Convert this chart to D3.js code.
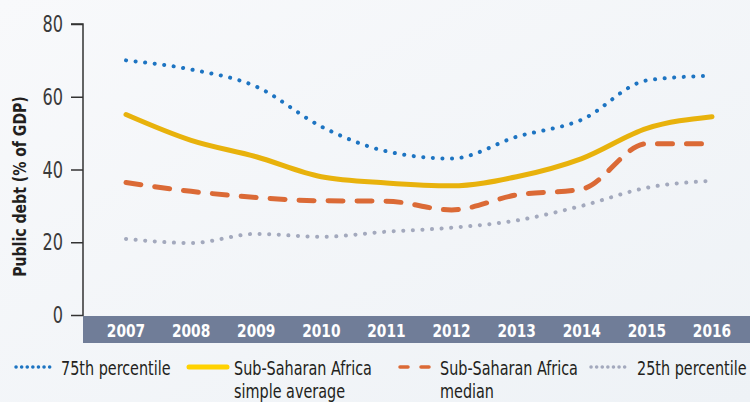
<!DOCTYPE html>
<html>
<head>
<meta charset="utf-8">
<script src="https://cdn.jsdelivr.net/npm/d3@7"></script>
<style>
  body { margin: 0; background: #f6f8fa; }
  svg { display: block; }
  text { font-family: "DejaVu Sans Condensed", "Liberation Sans Narrow", "Roboto Condensed", sans-serif; }
</style>
</head>
<body>
<div id="chart-area"></div>
<script>
// data
var years = ["2007", "2008", "2009", "2010", "2011", "2012", "2013", "2014", "2015", "2016"];
var p75 = [70.0, 67.5, 62.8, 51.8, 45.0, 43.0, 49.0, 53.7, 64.5, 65.8];
var ssaAverage = [55.1, 48.0, 43.5, 38.0, 36.3, 35.5, 38.0, 43.0, 51.3, 54.5];
var ssaMedian = [36.4, 34.0, 32.3, 31.4, 31.3, 28.9, 33.0, 34.6, 47.1, 47.1];
var p25 = [20.9, 19.8, 22.3, 21.5, 22.9, 24.0, 26.0, 30.0, 35.0, 36.9];
var yTicks = [0, 20, 40, 60, 80];

var series = [
    { name: ["75th percentile"], values: p75, color: "#1d74c2", width: 4, dash: "0.1 9.5", lx: 16, tx: 61 },
    { name: ["Sub-Saharan Africa", "simple average"], values: ssaAverage, color: "#e8b20c", width: 5, dash: null, lx: 189, tx: 234 },
    { name: ["Sub-Saharan Africa", "median"], values: ssaMedian, color: "#db6a36", width: 5, dash: "15 14", lx: 400, tx: 440 },
    { name: ["25th percentile"], values: p25, color: "#a3a9bd", width: 4, dash: "0.1 9.5", lx: 591, tx: 637 }
];

var W = 750, H = 402;
var svg = d3.select("#chart-area").append("svg")
    .attr("width", W)
    .attr("height", H);

// soft background
var grad = svg.append("defs").append("linearGradient")
    .attr("id", "bg").attr("x1", 0).attr("y1", 0).attr("x2", 1).attr("y2", 1);
grad.append("stop").attr("offset", "0%").attr("stop-color", "#f8f9fb");
grad.append("stop").attr("offset", "100%").attr("stop-color", "#eef2f6");
svg.append("rect").attr("width", W).attr("height", H).attr("fill", "url(#bg)");

var margin = { left: 83, top: 24, right: 0 };
var plotBottom = 315;

var x = d3.scalePoint().domain(years).range([126, 712]);
var y = d3.scaleLinear().domain([0, 80]).range([plotBottom, margin.top]);

// x band
svg.append("rect")
    .attr("x", margin.left)
    .attr("y", 316)
    .attr("width", W - margin.left)
    .attr("height", 27)
    .attr("fill", "#707d98");

svg.append("g").selectAll("text")
    .data(years)
    .enter().append("text")
    .attr("transform", (d) => { return "translate(" + x(d) + ",337) scale(0.9,1)"; })
    .attr("text-anchor", "middle")
    .attr("font-size", "17px")
    .attr("font-weight", "bold")
    .style("fill", "white")
    .text((d) => { return d; });

// y axis
var leftAxis = d3.axisLeft(y).tickValues(yTicks).tickSize(12).tickFormat("");
var yAxisGroup = svg.append("g")
    .attr("transform", "translate(" + margin.left + ",0)")
    .call(leftAxis);
yAxisGroup.select(".domain")
    .attr("d", "M-12," + y(80) + "H0V" + 316)
    .attr("stroke", "#333").attr("stroke-width", 1.5);
yAxisGroup.selectAll(".tick line").attr("stroke", "#333").attr("stroke-width", 1.5);

svg.append("g").selectAll("text")
    .data(yTicks)
    .enter().append("text")
    .attr("transform", (d) => { return "translate(63," + (y(d) + 8) + ") scale(0.78,1)"; })
    .attr("text-anchor", "end")
    .attr("font-size", "23px")
    .attr("font-weight", 300)
    .style("fill", "#3a3a3a")
    .text((d) => { return d; });

// Y label
svg.append("text")
    .attr("transform", "translate(26," + ((y(80) + plotBottom) / 2 + 17) + ") rotate(-90) scale(0.92,1)")
    .attr("text-anchor", "middle")
    .attr("font-size", "17px")
    .attr("font-weight", "bold")
    .style("fill", "#231f20")
    .text("Public debt (% of GDP)");

// lines
var line = d3.line()
    .x((d, i) => { return x(years[i]); })
    .y((d) => { return y(d); })
    .curve(d3.curveMonotoneX);

series.forEach((s) => {
    svg.append("path")
        .datum(s.values)
        .attr("fill", "none")
        .attr("stroke", s.color)
        .attr("stroke-width", s.width)
        .attr("stroke-linecap", "round")
        .attr("stroke-linejoin", "round")
        .attr("stroke-dasharray", s.dash)
        .attr("d", line);
});

// legend
var legend = svg.append("g");
series.forEach((s) => {
    legend.append("line")
        .attr("x1", s.lx).attr("x2", s.lx + (s.dash === "15 14" ? 32 : 38))
        .attr("y1", 367).attr("y2", 367)
        .attr("stroke", s.color === "#e8b20c" ? "#ffd200" : s.color)
        .attr("stroke-width", s.dash ? 3.5 : 5)
        .attr("stroke-linecap", "round")
        .attr("stroke-dasharray", s.dash ? (s.dash === "15 14" ? "8 13" : "0.1 5.5") : null);
    var t = legend.append("text")
        .attr("transform", "translate(" + s.tx + ",375) scale(0.8,1)")
        .attr("font-size", "20px")
        .style("fill", "#231f20");
    s.name.forEach((n, i) => {
        t.append("tspan").attr("x", 0).attr("dy", i === 0 ? 0 : 23).text(n);
    });
});
</script>
</body>
</html>
